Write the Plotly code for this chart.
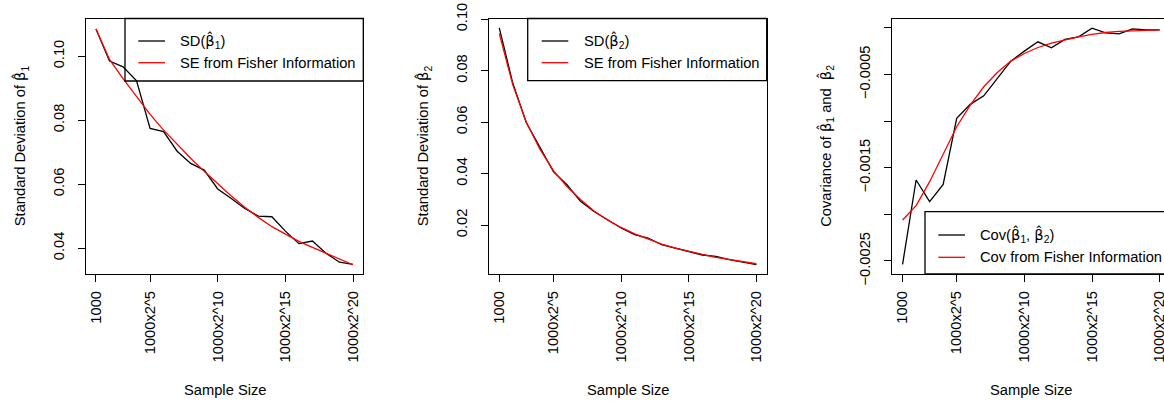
import plotly.graph_objects as go

# ---------------- data ----------------
idx = list(range(1, 21))
tick_pos = [1, 5, 10, 15, 20]
tick_lab = ["1000", "1000x2^5", "1000x2^10", "1000x2^15", "1000x2^20"]

sd_b1 = [0.1085, 0.0985, 0.0967, 0.0923, 0.0774, 0.0764, 0.0703, 0.0665, 0.0644, 0.0585,
         0.0555, 0.0524, 0.0500, 0.0498, 0.0453, 0.0414, 0.0422, 0.0384, 0.0356, 0.0349]
se_b1 = [0.1085, 0.0990, 0.0930, 0.0873, 0.0818, 0.0769, 0.0724, 0.0681, 0.0640, 0.0600,
         0.0563, 0.0528, 0.0496, 0.0467, 0.0444, 0.0421, 0.0402, 0.0384, 0.0366, 0.0348]

sd_b2 = [0.0966, 0.0751, 0.0598, 0.0505, 0.0408, 0.0357, 0.0293, 0.0253, 0.0221, 0.0189,
         0.0163, 0.0150, 0.0124, 0.0111, 0.0098, 0.0084, 0.0079, 0.0066, 0.0056, 0.0047]
se_b2 = [0.0944, 0.0745, 0.0600, 0.0495, 0.0412, 0.0350, 0.0300, 0.0255, 0.0220, 0.0191,
         0.0166, 0.0145, 0.0126, 0.0111, 0.0098, 0.0086, 0.0075, 0.0066, 0.0058, 0.0050]

cov_b12 = [-0.002536, -0.001632, -0.001864, -0.001679, -0.000971, -0.000821, -0.000729,
           -0.000543, -0.000357, -0.000250, -0.000150, -0.000214, -0.000125, -0.000096,
           -0.000004, -0.000054, -0.000064, -0.000011, -0.000021, -0.000021]
cov_fi = [-0.002061, -0.001907, -0.001650, -0.001364, -0.001061, -0.000829, -0.000632,
          -0.000479, -0.000357, -0.000275, -0.000211, -0.000164, -0.000129, -0.000096,
          -0.000071, -0.000050, -0.000039, -0.000032, -0.000025, -0.000021]

y1_ticks = [0.04, 0.06, 0.08, 0.10]
y1_lab = ["0.04", "0.06", "0.08", "0.10"]
y2_ticks = [0.02, 0.04, 0.06, 0.08, 0.10]
y2_lab = ["0.02", "0.04", "0.06", "0.08", "0.10"]
y3_ticks = [0.0, -0.0005, -0.0010, -0.0015, -0.0020, -0.0025]
y3_lab = ["", "\u22120.0005", "", "\u22120.0015", "", "\u22120.0025"]

# ---------------- layout helpers ----------------
W, H = 1164, 402
FONT = "Liberation Sans, Arial, sans-serif"
FS = 14.7
LW = 1.3
BH = '<span style="font-family:DejaVu Sans">\u03b2\u0302</span>'  # beta-hat


def px(x):
    return x / W


def py(y):
    return 1 - y / H


fig = go.Figure()

panels = [
    dict(xa="x", ya="y", black=sd_b1, red=se_b1),
    dict(xa="x2", ya="y2", black=sd_b2, red=se_b2),
    dict(xa="x3", ya="y3", black=cov_b12, red=cov_fi),
]
for p in panels:
    fig.add_trace(go.Scatter(x=idx, y=p["black"], mode="lines", xaxis=p["xa"], yaxis=p["ya"],
                             line=dict(color="black", width=LW), showlegend=False))
    fig.add_trace(go.Scatter(x=idx, y=p["red"], mode="lines", xaxis=p["xa"], yaxis=p["ya"],
                             line=dict(color="#FF0000", width=LW), showlegend=False))

box_top, box_bot = 18.5, 274
dom_x = [(85.7, 363.3), (489.0, 766.7), (892.3, 1164.0)]
xranges = [[0.24, 20.76], [0.24, 20.76], [0.24, 0.24 + (1164 - 892.3) / 13.53]]
yranges = [[0.0319, 0.1118], [0.00102, 0.10028], [-0.00264, 0.0001]]
yt = [(y1_ticks, y1_lab), (y2_ticks, y2_lab), (y3_ticks, y3_lab)]

common = dict(showline=True, linecolor="black", linewidth=LW, ticks="outside", ticklen=7,
              tickwidth=LW, tickcolor="black", showgrid=False, zeroline=False,
              automargin=False, ticklabeloverflow="allow",
              tickfont=dict(family=FONT, size=FS, color="black"), tickangle=-90)

for i in range(3):
    sfx = "" if i == 0 else str(i + 1)
    fig.layout["xaxis" + sfx] = dict(
        common, domain=[px(dom_x[i][0]), px(dom_x[i][1])], range=xranges[i],
        anchor="y" + sfx, tickvals=tick_pos, ticktext=tick_lab, mirror=True,
        ticklabelstandoff=3)
    fig.layout["yaxis" + sfx] = dict(
        common, domain=[py(box_bot), py(box_top)], range=yranges[i],
        anchor="x" + sfx, tickvals=yt[i][0], ticktext=yt[i][1], mirror=(i < 2),
        ticklabelstandoff=8)

ann = []
shapes = []

# axis titles
ytitles = ["Standard Deviation of " + BH + "<sub>1</sub>",
           "Standard Deviation of " + BH + "<sub>2</sub>",
           "Covariance of " + BH + "<sub>1</sub> and\u00a0 " + BH + "<sub>2</sub>"]
ytitle_x = [21, 424, 826.5]
for i in range(3):
    cx = (dom_x[i][0] + (dom_x[i][0] + 277.6)) / 2
    ann.append(dict(x=px(cx), y=py(390), xref="paper", yref="paper", text="Sample Size",
                    showarrow=False, xanchor="center", yanchor="middle",
                    font=dict(family=FONT, size=FS, color="black")))
    ann.append(dict(x=px(ytitle_x[i]), y=py((box_top + box_bot) / 2), xref="paper", yref="paper",
                    text=ytitles[i], textangle=-90, showarrow=False, xanchor="center",
                    yanchor="middle", font=dict(family=FONT, size=FS, color="black")))

# legends
legends = [
    dict(box=(125, 363.3, 18.5, 81), line=(138.3, 165), tx=178.3, rows=(41, 62.7),
         labels=["SD(" + BH + "<sub>1</sub>)", "SE from Fisher Information"]),
    dict(box=(527.7, 766.7, 18.5, 80.7), line=(541.7, 568.3), tx=581.7, rows=(41, 62.7),
         labels=["SD(" + BH + "<sub>2</sub>)", "SE from Fisher Information"]),
    dict(box=(925, 1175, 211.7, 274), line=(938.3, 965), tx=977.7, rows=(235, 257.3),
         labels=["Cov(" + BH + "<sub>1</sub>, " + BH + "<sub>2</sub>)",
                 "Cov from Fisher Information"]),
]
for lg in legends:
    x0, x1, y0, y1 = lg["box"]
    shapes.append(dict(type="rect", xref="paper", yref="paper", x0=px(x0), x1=px(x1),
                       y0=py(y1), y1=py(y0), line=dict(color="black", width=LW),
                       fillcolor="rgba(0,0,0,0)"))
    for r, col, lab in zip(lg["rows"], ["black", "#FF0000"], lg["labels"]):
        shapes.append(dict(type="line", xref="paper", yref="paper", x0=px(lg["line"][0]),
                           x1=px(lg["line"][1]), y0=py(r), y1=py(r),
                           line=dict(color=col, width=LW)))
        ann.append(dict(x=px(lg["tx"]), y=py(r), xref="paper", yref="paper", text=lab,
                        showarrow=False, xanchor="left", yanchor="middle",
                        font=dict(family=FONT, size=FS, color="black")))

fig.update_layout(template="none", width=W, height=H, margin=dict(l=0, r=0, t=0, b=0),
                  paper_bgcolor="white", plot_bgcolor="white",
                  annotations=ann, shapes=shapes, showlegend=False)

fig.write_html("out.html")
